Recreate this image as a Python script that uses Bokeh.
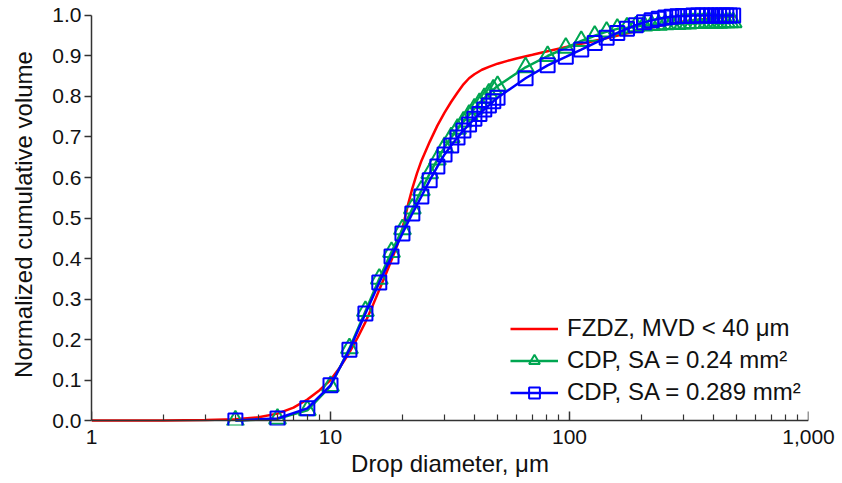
from bokeh.plotting import figure
from bokeh.models import (Range1d, FixedTicker, NumeralTickFormatter, LogAxis,
                          PrintfTickFormatter, Legend, LegendItem)
from bokeh.embed import file_html
from bokeh.resources import INLINE

# ---- data ----
fzdz_d = [1, 2, 3, 4, 5, 6, 7, 8, 9, 10, 11, 12, 13, 14, 15, 16, 17, 18, 19, 20,
          21, 22, 23, 24, 26, 28, 30, 32, 34, 36, 38, 40, 43, 46, 50, 55, 60, 70,
          80, 90, 100, 120, 150, 200, 250, 300, 400, 500]
fzdz_v = [0.0, 0.0, 0.001, 0.003, 0.008, 0.017, 0.032, 0.052, 0.075, 0.100,
          0.133, 0.168, 0.205, 0.243, 0.283, 0.323, 0.360, 0.396, 0.432, 0.474,
          0.528, 0.573, 0.610, 0.641, 0.688, 0.728, 0.760, 0.787, 0.810, 0.830,
          0.845, 0.855, 0.866, 0.873, 0.881, 0.888, 0.894, 0.903, 0.911, 0.918,
          0.924, 0.934, 0.947, 0.965, 0.977, 0.985, 0.994, 0.998]

cdp_d = [4, 6, 8, 10, 12, 14, 16, 18, 20, 22, 24, 26, 28, 30, 32, 34, 36, 38, 40,
         42, 44, 46, 48, 50, 65.5, 81, 96.5, 112, 127.5, 143, 158.5, 174, 189.5,
         205, 220.5, 236, 251.5, 267, 282.5, 298, 313.5, 329, 344.5, 360, 375.5,
         391, 406.5, 422, 437.5, 453, 468.5, 484]
cdp_024_v = [0.0, 0.004, 0.025, 0.085, 0.178, 0.270, 0.350, 0.416, 0.472, 0.523,
             0.568, 0.610, 0.644, 0.675, 0.699, 0.720, 0.738, 0.755, 0.770, 0.784,
             0.796, 0.807, 0.817, 0.826, 0.872, 0.900, 0.920, 0.937, 0.950, 0.960,
             0.967, 0.970, 0.973, 0.975, 0.976, 0.977, 0.978, 0.979, 0.979, 0.980,
             0.980, 0.981, 0.981, 0.981, 0.982, 0.982, 0.982, 0.982, 0.983, 0.983,
             0.983, 0.983]
cdp_0289_v = [0.0, 0.005, 0.030, 0.087, 0.175, 0.264, 0.341, 0.405, 0.462, 0.511,
              0.553, 0.593, 0.627, 0.657, 0.679, 0.699, 0.716, 0.731, 0.745, 0.757,
              0.768, 0.778, 0.788, 0.797, 0.845, 0.877, 0.898, 0.916, 0.932, 0.945,
              0.957, 0.967, 0.976, 0.983, 0.988, 0.992, 0.995, 0.997, 0.998, 0.999,
              0.999, 1.0, 1.0, 1.0, 1.0, 1.0, 1.0, 1.0, 1.0, 1.0, 1.0, 1.0]

x_major = [1, 10, 100, 1000]
y_ticks = [0.0, 0.1, 0.2, 0.3, 0.4, 0.5, 0.6, 0.7, 0.8, 0.9, 1.0]
labels = ["FZDZ, MVD < 40 \u03bcm", "CDP, SA = 0.24 mm\u00b2", "CDP, SA = 0.289 mm\u00b2"]

RED = "#ff0000"
GREEN = "#00a651"
BLUE = "#0000ff"
FONT = "Liberation Sans"
AX = "#333333"
TXT = "#111111"

p = figure(width=842, height=483, x_axis_type="log",
           x_range=Range1d(1, 1000), y_range=Range1d(-0.0123, 1.0296),
           output_backend="svg", toolbar_location=None,
           min_border_left=91, min_border_right=34, min_border_top=3,
           min_border_bottom=58)
p.xgrid.visible = False
p.ygrid.visible = False
p.outline_line_color = None

r_red = p.line(fzdz_d, fzdz_v, line_color=RED, line_width=2.5)
g_line = p.line(cdp_d, cdp_024_v, line_color=GREEN, line_width=2.5)
g_mark = p.scatter(cdp_d, cdp_024_v, marker="triangle", size=17,
                   line_color=GREEN, fill_color=None, line_width=2)
b_line = p.line(cdp_d, cdp_0289_v, line_color=BLUE, line_width=2.5)
b_mark = p.scatter(cdp_d, cdp_0289_v, marker="square", size=14,
                   line_color=BLUE, fill_color=None, line_width=2)

minor_x = [m * 10 ** e for e in range(3) for m in range(2, 10)]

# x axis: labels + title (at frame bottom, no line/ticks)
xa = p.xaxis[0]
xa.ticker = FixedTicker(ticks=x_major, minor_ticks=minor_x)
xa.formatter = NumeralTickFormatter(format="0,0")
xa.axis_line_color = None
xa.major_tick_line_color = None
xa.minor_tick_line_color = None
xa.major_tick_in = 0
xa.major_tick_out = 0
xa.minor_tick_in = 0
xa.minor_tick_out = 0
xa.major_label_standoff = 4
xa.major_label_text_font = FONT
xa.major_label_text_font_size = "21px"
xa.major_label_text_color = TXT
xa.axis_label = "Drop diameter, \u03bcm"
xa.axis_label_text_font = FONT
xa.axis_label_text_font_size = "24px"
xa.axis_label_text_font_style = "normal"
xa.axis_label_text_color = TXT
xa.axis_label_standoff = 3

# x axis line and inward ticks at y = 0
xline = LogAxis(fixed_location=0,
                ticker=FixedTicker(ticks=x_major, minor_ticks=minor_x),
                axis_line_color=AX, axis_line_width=1.5,
                major_tick_in=9, major_tick_out=0,
                minor_tick_in=6, minor_tick_out=0,
                major_tick_line_color=AX, minor_tick_line_color=AX,
                major_tick_line_width=1.5, minor_tick_line_width=1.2,
                major_label_text_color=None)
p.add_layout(xline, "below")

# y axis
ya = p.yaxis[0]
ya.ticker = FixedTicker(ticks=y_ticks)
ya.formatter = PrintfTickFormatter(format="%.1f")
ya.bounds = (0, 1)
ya.axis_line_color = AX
ya.axis_line_width = 1.5
ya.major_tick_in = 0
ya.major_tick_out = 7
ya.minor_tick_in = 0
ya.minor_tick_out = 0
ya.major_tick_line_color = AX
ya.major_tick_line_width = 1.5
ya.major_label_standoff = 3
ya.major_label_text_font = FONT
ya.major_label_text_font_size = "21px"
ya.major_label_text_color = TXT
ya.axis_label = "Normalized cumulative volume"
ya.axis_label_text_font = FONT
ya.axis_label_text_font_size = "24px"
ya.axis_label_text_font_style = "normal"
ya.axis_label_text_color = TXT
ya.axis_label_standoff = 12

legend = Legend(items=[
    LegendItem(label=labels[0], renderers=[r_red]),
    LegendItem(label=labels[1], renderers=[g_line, g_mark]),
    LegendItem(label=labels[2], renderers=[b_line, b_mark]),
], location=(419, 19))
legend.padding = 0
legend.margin = 0
legend.spacing = 4
legend.glyph_width = 48
legend.glyph_height = 27
legend.label_height = 27
legend.label_standoff = 9
legend.label_text_font = FONT
legend.label_text_font_size = "24px"
legend.label_text_color = TXT
legend.border_line_color = None
legend.background_fill_alpha = 0
p.add_layout(legend)

open("out.html", "w").write(file_html(p, INLINE))
